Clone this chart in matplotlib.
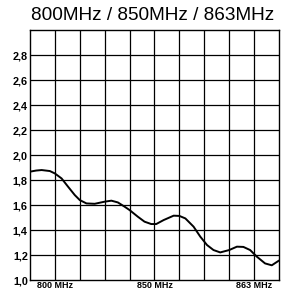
#!/usr/bin/env python3

# SWR curve over the 800 / 850 / 863 MHz band

import matplotlib as mpl
mpl.use("Agg")

import matplotlib.pyplot as plt   # noqa

# curve, x in grid columns (0..10)
pos = [0.0, 0.25, 0.47, 0.8, 1.0, 1.27, 1.53, 1.8, 2.0, 2.27, 2.6, 3.0,
       3.27, 3.53, 3.8, 4.0, 4.33, 4.6, 4.87, 5.07, 5.37, 5.77, 6.0, 6.24,
       6.57, 6.84, 7.11, 7.37, 7.64, 8.0, 8.31, 8.57, 8.84, 9.11, 9.44,
       9.71, 10.0]
swr = [1.867, 1.876, 1.88, 1.872, 1.853, 1.813, 1.747, 1.68, 1.64, 1.613,
       1.61, 1.627, 1.635, 1.621, 1.587, 1.56, 1.507, 1.467, 1.448, 1.448,
       1.48, 1.515, 1.513, 1.493, 1.427, 1.347, 1.28, 1.24, 1.221, 1.24,
       1.267, 1.265, 1.24, 1.187, 1.133, 1.118, 1.156]

yticks = [1.0, 1.2, 1.4, 1.6, 1.8, 2.0, 2.2, 2.4, 2.6, 2.8]
xtick_pos = [1, 5, 9]
xtick_labels = ['800 MHz', '850 MHz', '863 MHz']
title = '800MHz / 850MHz / 863MHz'


def makegraph():
  fig = plt.figure(figsize=(2.85, 2.89), dpi=100)
  ax = fig.add_axes([0.105, 0.031, 0.874, 0.865])

  ax.plot(pos, swr, color='black', lw=1.4, solid_joinstyle='round',
          solid_capstyle='round')

  ax.set_xlim(0, 10)
  ax.set_ylim(1.0, 3.0)

  # grid: 10 x 10 squares
  for i in range(1, 10):
    ax.axvline(i, color='black', lw=0.9, zorder=0)
    ax.axhline(1.0 + 0.2 * i, color='black', lw=0.9, zorder=0)
  for s in ax.spines.values():
    s.set_linewidth(1.0)

  ax.set_yticks(yticks)
  ax.set_yticklabels([('%.1f' % v).replace('.', ',') for v in yticks],
                     fontsize=7.8, fontweight='bold', family='Liberation Sans')
  ax.set_xticks(xtick_pos)
  ax.set_xticklabels(xtick_labels, fontsize=6.5, fontweight='bold',
                     family='Liberation Sans')
  ax.tick_params(length=0, pad=1.5)
  ax.tick_params(axis='x', pad=0.5)

  fig.text(0.537, 0.93, title, ha='center', va='baseline', fontsize=13.7,
           family='Liberation Sans')

  plt.savefig('out.png', dpi=100)


if __name__ == "__main__":
  makegraph()
